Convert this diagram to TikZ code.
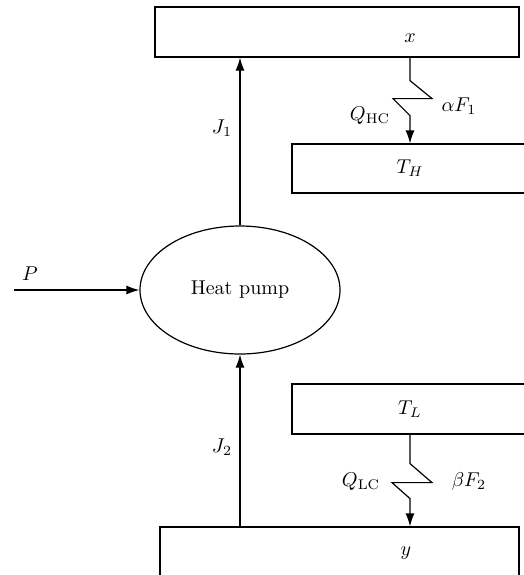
\documentclass[tikz,border=0pt]{standalone}
\usepackage{tikz}
\usetikzlibrary{arrows.meta,shapes.geometric}

\begin{document}
\begin{tikzpicture}[x=0.5pt, y=-0.5pt, line width=0.6pt,
      res/.style={draw, rectangle, inner sep=0pt, minimum height=25pt},
      >={Latex[length=6.5pt, width=4.5pt]}]
    \useasboundingbox (0,0) rectangle (524,575);
    \clip (0,0) rectangle (524,575);
    \node[res, minimum width=182pt] (xres) at (337,32) {};
    \node (xlab) at (410,38) {$x$};
    \node[res, minimum width=118pt, minimum height=24.5pt] (th) at (410,168.5) {$T_H$};
    \node[draw, ellipse, inner sep=0pt, minimum width=100pt, minimum height=64pt] (hp) at (240,290) {Heat pump};
    \node[res, minimum width=118pt] (tl) at (410,409) {$T_L$};
    \node[res, minimum width=179.5pt, minimum height=26pt] (yres) at (339.5,553) {};
    \node (ylab) at (406,553) {$y$};
    \coordinate (pin) at (14,290);
    \node (plab) at (30,274) {$P$};
    \node (j1) at (222,128) {$J_1$};
    \node (j2) at (222,447) {$J_2$};
    \node (qhc) at (370,116) {$Q_{\mathrm{HC}}$};
    \node (af) at (459,106) {$\alpha F_1$};
    \node (qlc) at (361,482) {$Q_{\mathrm{LC}}$};
    \node (bf) at (469,481) {$\beta F_2$};
    \draw[->] (pin) -- (hp.west);
    \draw[->] (hp.north) -- (hp.north |- xres.south);
    \draw[->] (hp.south |- yres.north) -- (hp.south);
    \draw[->] (th.north |- xres.south) -- ++(0,23) -- ++(22,18) -- ++(-39,0) -- ++(17,17) -- (th.north);
    \draw[->] (tl.south) -- ++(0,29) -- ++(22,19) -- ++(-40,0) -- ++(18,16) -- (tl.south |- yres.north);
  \end{tikzpicture}
\end{document}
